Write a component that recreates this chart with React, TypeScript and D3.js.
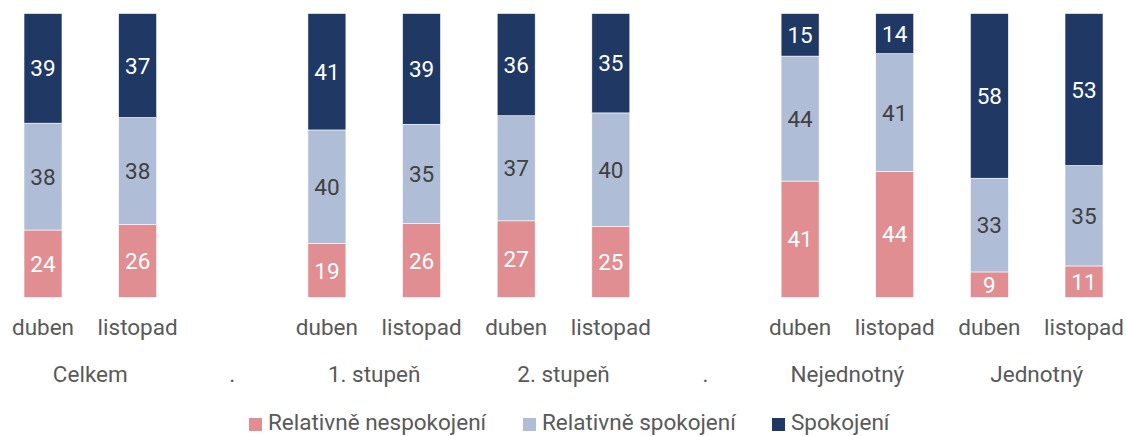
import React from "react";
import * as d3 from "d3";

const slots = ["c-d", "c-l", "sep1", "s1-d", "s1-l", "s2-d", "s2-l", "sep2", "n-d", "n-l", "j-d", "j-l"];
const monthLabels = ["duben", "listopad", "", "duben", "listopad", "duben", "listopad", "", "duben", "listopad", "duben", "listopad"];
const groupLabels = [
  { label: "Celkem", from: "c-d", to: "c-l" },
  { label: ".", from: "sep1", to: "sep1" },
  { label: "1. stupeň", from: "s1-d", to: "s1-l" },
  { label: "2. stupeň", from: "s2-d", to: "s2-l" },
  { label: ".", from: "sep2", to: "sep2" },
  { label: "Nejednotný", from: "n-d", to: "n-l" },
  { label: "Jednotný", from: "j-d", to: "j-l" },
];
const barSlots = ["c-d", "c-l", "s1-d", "s1-l", "s2-d", "s2-l", "n-d", "n-l", "j-d", "j-l"];
const nespokojeni = [24, 26, 19, 26, 27, 25, 41, 44, 9, 11];
const relSpokojeni = [38, 38, 40, 35, 37, 40, 44, 41, 33, 35];
const spokojeni = [39, 37, 41, 39, 36, 35, 15, 14, 58, 53];

const seriesNames = ["Relativně nespokojení", "Relativně spokojení", "Spokojení"];
const seriesKeys = ["a", "b", "c"];
const colors = ["#E08E91", "#AFBDD7", "#203864"];
const labelColors = ["#FFFFFF", "#404040", "#FFFFFF"];

const FONT = "Roboto, 'Noto Sans', sans-serif";
const FS = 22.5;

export default function App() {
  const W = 1126, H = 436;
  const rows = barSlots.map((s, i) => ({ slot: s, a: nespokojeni[i], b: relSpokojeni[i], c: spokojeni[i] }));
  const stack = d3.stack<any>().keys(seriesKeys).offset(d3.stackOffsetExpand);
  const layers = stack(rows);
  const x = d3.scalePoint<string>().domain(slots).range([43, 1084]);
  const y = d3.scaleLinear().domain([0, 1]).range([297.5, 13.5]);
  const bw = 38;

  const legendX = [249, 523, 772];

  return (
    <svg width={W} height={H} style={{ position: "absolute", left: 0, top: 0, background: "#fff" }} fontFamily={FONT}>
      {layers.map((layer, li) => (
        <g key={li}>
          {layer.map((d, i) => {
            const cx = x(d.data.slot)!;
            const y0 = y(d[0]), y1 = y(d[1]);
            const v = [nespokojeni, relSpokojeni, spokojeni][li][i];
            return (
              <g key={i}>
                <rect x={cx - bw / 2} y={y1} width={bw} height={y0 - y1} fill={colors[li]} stroke="#ffffff" strokeWidth={0.6} />
                <text x={cx} y={(y0 + y1) / 2} dy="0.36em" textAnchor="middle" fontSize={FS} fill={labelColors[li]}>{v}</text>
              </g>
            );
          })}
        </g>
      ))}
      {slots.map((s, i) => (
        <text key={s} x={x(s)!} y={335} textAnchor="middle" fontSize={FS} fill="#595959">{monthLabels[i]}</text>
      ))}
      {groupLabels.map((g, i) => (
        <text key={i} x={(x(g.from)! + x(g.to)!) / 2} y={382} textAnchor="middle" fontSize={FS} fill="#595959">{g.label}</text>
      ))}
      {seriesNames.map((n, i) => (
        <g key={n}>
          <rect x={legendX[i]} y={418} width={13} height={13} fill={colors[i]} />
          <text x={legendX[i] + 19} y={430} fontSize={FS} fill="#595959">{n}</text>
        </g>
      ))}
    </svg>
  );
}
